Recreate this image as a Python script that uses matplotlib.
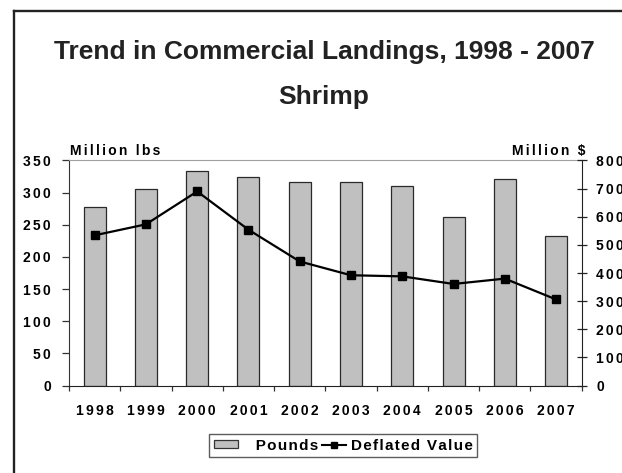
import matplotlib
matplotlib.use("Agg")
import matplotlib.pyplot as plt
from matplotlib.lines import Line2D
from matplotlib.patches import Patch
from matplotlib.ticker import FixedLocator, FixedFormatter

plt.rcParams['font.family'] = ['Liberation Sans', 'DejaVu Sans']
plt.rcParams['font.weight'] = 'bold'

years = ['1998', '1999', '2000', '2001', '2002', '2003', '2004', '2005', '2006', '2007']
pounds = [278, 305, 333, 325, 317, 316, 310, 262, 321, 232]          # million lbs
deflated_value = [534, 573, 690, 554, 441, 392, 388, 361, 380, 306]  # million $
lbs_ticks = [0, 50, 100, 150, 200, 250, 300, 350]
usd_ticks = [0, 100, 200, 300, 400, 500, 600, 700, 800]

HAIR = '\u200a'


def spaced(s, n=1):
    # Excel-style wide letter spacing
    return (HAIR * n).join(s)


fig = plt.figure(figsize=(6.22, 4.73), dpi=100)

# outer frame (runs off the right and bottom edges)
fx, fy = 14 / 622, 1 - 11 / 473
fig.add_artist(Line2D([fx, fx], [-0.01, fy], transform=fig.transFigure, color='#222222', lw=1.7))
fig.add_artist(Line2D([fx, 1.01], [fy, fy], transform=fig.transFigure, color='#222222', lw=1.7))

fig.text(324 / 622, 1 - 59.3 / 473, 'Trend in Commercial Landings, 1998 - 2007',
         ha='center', va='baseline', fontsize=19, fontweight='bold', color='#222222')
fig.text(324 / 622, 1 - 103.5 / 473, 'Shrimp',
         ha='center', va='baseline', fontsize=19, fontweight='bold', color='#222222')

ax = fig.add_axes([69 / 622, 1 - 385.5 / 473, 512.7 / 622, 225 / 473])
x = list(range(len(years)))
ax.bar(x, pounds, width=0.43, color='#C0C0C0', edgecolor='#2a2a2a', linewidth=0.9, zorder=2)
ax.set_xlim(-0.5, len(years) - 0.5)
ax.set_ylim(0, 350)

ax.yaxis.set_major_locator(FixedLocator(lbs_ticks))
ax.yaxis.set_major_formatter(FixedFormatter([spaced(str(v), 2) for v in lbs_ticks]))
ax.tick_params(axis='y', direction='out', length=5, width=0.9, pad=8, labelsize=10, color='#333333')

ax.xaxis.set_major_locator(FixedLocator(x))
ax.xaxis.set_major_formatter(FixedFormatter([spaced(y, 2) for y in years]))
ax.xaxis.set_minor_locator(FixedLocator([i - 0.5 for i in range(len(years) + 1)]))
ax.tick_params(axis='x', which='major', length=0, pad=13.5, labelsize=10)
ax.tick_params(axis='x', which='minor', direction='out', length=3.6, width=0.9, color='#333333')
for lab in ax.get_xticklabels() + ax.get_yticklabels():
    lab.set_fontweight('bold')

ax.spines['right'].set_visible(False)
ax.spines['top'].set_color('#A0A0A0')
ax.spines['top'].set_linewidth(0.8)
ax.spines['left'].set_color('#333333')
ax.spines['bottom'].set_color('#222222')

ax2 = ax.twinx()
ax2.plot(x, deflated_value, color='black', lw=1.6, marker='s', markersize=5.2, zorder=3)
ax2.set_ylim(0, 800)
ax2.yaxis.set_major_locator(FixedLocator(usd_ticks))
ax2.yaxis.set_major_formatter(FixedFormatter([spaced(str(v), 2) for v in usd_ticks]))
ax2.tick_params(axis='y', direction='inout', length=7.2, width=0.9, pad=6.7, labelsize=10, color='#222222')
for lab in ax2.get_yticklabels():
    lab.set_fontweight('bold')
for side in ('left', 'top', 'bottom'):
    ax2.spines[side].set_visible(False)
ax2.spines['right'].set_color('#222222')

fig.text(70 / 622, 1 - 155 / 473, spaced('Million lbs', 2),
         ha='left', va='baseline', fontsize=10, fontweight='bold')
fig.text(585 / 622, 1 - 155 / 473, spaced('Million $', 2),
         ha='right', va='baseline', fontsize=10, fontweight='bold')

handles = [Patch(facecolor='#C0C0C0', edgecolor='#333333', linewidth=0.9),
           Line2D([], [], color='black', lw=1.5, marker='s', markersize=4)]
labels = ['   ' + spaced('Pounds'), spaced('Deflated Value')]
leg = fig.legend(handles, labels, loc='center', bbox_to_anchor=(343.4 / 622, 1 - 445.8 / 473),
                 ncol=2, fancybox=False, shadow=False, frameon=True, edgecolor='#333333',
                 prop={'size': 11, 'weight': 'bold'}, handlelength=1.6, handleheight=0.45,
                 handletextpad=0.3, columnspacing=0.25, borderpad=0.3, borderaxespad=0)
leg.get_frame().set_linewidth(1.0)

fig.savefig('out.png', dpi=100)
